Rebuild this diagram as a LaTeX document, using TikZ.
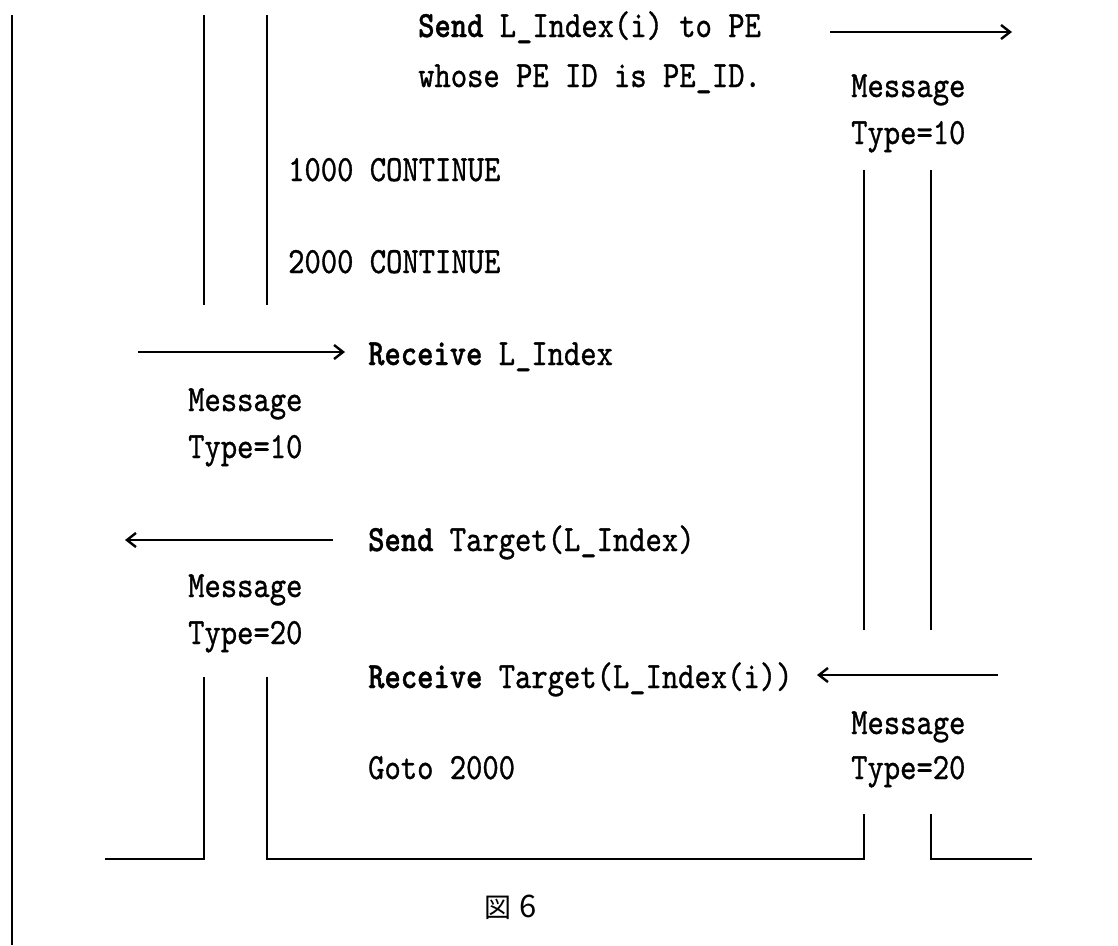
\documentclass[tikz,border=0pt]{standalone}
\usepackage{fontspec}
\usetikzlibrary{arrows.meta}
\newfontfamily\cjk{Noto Sans CJK JP}
\newfontfamily\mono{lmmono10-regular.otf}[FakeStretch=0.84,FakeBold=0.9]
\newfontfamily\monob{lmmonolt10-bold.otf}[FakeStretch=0.84,FakeBold=0.9]
\newcommand\bw[1]{{\monob #1}}
\begin{document}
\begin{tikzpicture}[x=1pt,y=-1pt,
  txt/.style={anchor=base west,inner sep=0pt,font=\fontsize{37}{44}\mono},
  ln/.style={line width=1.9pt},
  arr/.style={line width=2pt,-{Straight Barb[length=9pt,width=14pt,line width=2.4pt]}}]
\fill[white] (0,0) rectangle (1118,945);
\useasboundingbox (0,0) rectangle (1118,945);
% vertical lines
\draw[ln] (12,15) -- (12,945);
\draw[ln] (204,15) -- (204,305);
\draw[ln] (267,15) -- (267,305);
\draw[ln] (864,170) -- (864,630);
\draw[ln] (931,170) -- (931,630);
% bottom frame
\draw[ln] (105,859) -- (204,859) -- (204,677);
\draw[ln] (267,677) -- (267,859) -- (864,859) -- (864,814);
\draw[ln] (931,814) -- (931,859) -- (1032,859);
% texts
\node[txt] (s1) at (418,37) {\bw{Send} L\_Index(i) to PE};
\node[txt] (s2) at (418,87) {whose PE ID is PE\_ID.};
\node[txt] (m1) at (851,97) {Message};
\node[txt] (t1) at (851,144) {Type=10};
\node[txt] (c1) at (288,181) {1000 CONTINUE};
\node[txt] (c2) at (288,273) {2000 CONTINUE};
\node[txt] (r1) at (368,365) {\bw{Receive} L\_Index};
\node[txt] (m2) at (188,411) {Message};
\node[txt] (t2) at (188,458) {Type=10};
\node[txt] (s3) at (368,551) {\bw{Send} Target(L\_Index)};
\node[txt] (m3) at (188,597) {Message};
\node[txt] (t3) at (188,644) {Type=20};
\node[txt] (r2) at (368,688) {\bw{Receive} Target(L\_Index(i))};
\node[txt] (m4) at (851,734) {Message};
\node[txt] (t4) at (851,779) {Type=20};
\node[txt] (g1) at (368,779) {Goto 2000};
\node[anchor=base west,inner sep=0pt,font=\cjk] (fig) at (484,917)
  {\fontsize{27}{30}\selectfont 図\hspace{8pt}\fontsize{31}{30}\selectfont 6};
% arrows
\coordinate (a1s) at (830,32); \coordinate (a1e) at (1012,32);
\coordinate (a2s) at (138,352); \coordinate (a2e) at (345,352);
\coordinate (a3s) at (333,540); \coordinate (a3e) at (125,540);
\coordinate (a4s) at (998,675); \coordinate (a4e) at (817,675);
\draw[arr] (a1s) -- (a1e);
\draw[arr] (a2s) -- (a2e);
\draw[arr] (a3s) -- (a3e);
\draw[arr] (a4s) -- (a4e);
\end{tikzpicture}
\end{document}
